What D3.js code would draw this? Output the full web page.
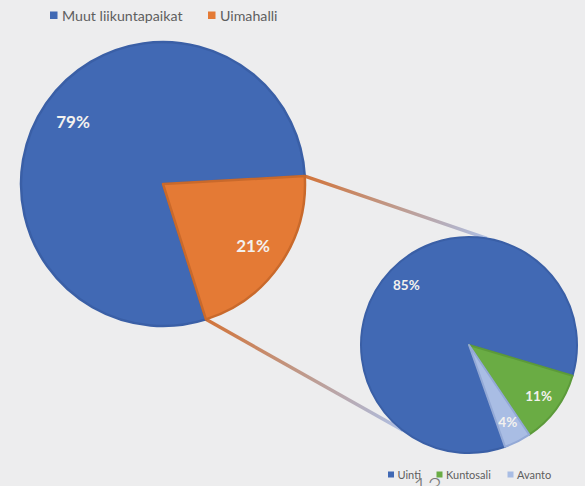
<!DOCTYPE html>
<html><head><meta charset="utf-8">
<script src="https://cdn.jsdelivr.net/npm/d3@7"></script>
<style>
html,body{margin:0;padding:0;background:#ededee;}
svg{display:block;font-family:Lato,"Open Sans",sans-serif;}
</style></head>
<body><svg id="c" width="585" height="486"></svg>
<script>
// data
const mainCategories = ["Muut liikuntapaikat", "Uimahalli"];
const mainValues = [79, 21];
const mainLabels = ["79%", "21%"];
const subCategories = ["Uinti", "Kuntosali", "Avanto"];
const subValues = [85, 11, 4];
const subLabels = ["85%", "11%", "4%"];

const mainColors = ["#4169b4", "#e47a35"];
const mainStroke = ["#3a5fa6", "#c9692b"];
const subColors = ["#4169b4", "#6aac44", "#a9bde4"];
const subStroke = ["#3a5fa6", "#5c9a3a", "#93a9d6"];

const svg = d3.select("#c");
const deg = Math.PI / 180;

const big = {cx: 163, cy: 184, r: 142, start: 162.4 * deg};
const small = {cx: 469, cy: 345, r: 108, start: 160.5 * deg};

const pieBig = d3.pie().sort(null).startAngle(big.start).endAngle(big.start + 2 * Math.PI);
const pieSmall = d3.pie().sort(null).startAngle(small.start).endAngle(small.start + 2 * Math.PI);
const arcsBig = pieBig(mainValues);
const arcsSmall = pieSmall(subValues);

const pt = (c, a, r) => [c.cx + r * Math.sin(a), c.cy - r * Math.cos(a)];

// connector lines
const orange = arcsBig[1];
const defs = svg.append("defs");
const conns = [
  {p0: pt(big, orange.startAngle, big.r), p1: pt(small, 9.5 * deg, small.r)},
  {p0: pt(big, orange.endAngle, big.r), p1: pt(small, 217.8 * deg, small.r)}
];
conns.forEach((c, i) => {
  const g = defs.append("linearGradient").attr("id", "g" + i)
    .attr("gradientUnits", "userSpaceOnUse")
    .attr("x1", c.p0[0]).attr("y1", c.p0[1]).attr("x2", c.p1[0]).attr("y2", c.p1[1]);
  g.append("stop").attr("offset", "0").attr("stop-color", "#d2743a");
  g.append("stop").attr("offset", "0.5").attr("stop-color", "#bf9a8c");
  g.append("stop").attr("offset", "1").attr("stop-color", "#aebfe4");
  svg.append("line").attr("x1", c.p0[0]).attr("y1", c.p0[1]).attr("x2", c.p1[0]).attr("y2", c.p1[1])
    .attr("stroke", `url(#g${i})`).attr("stroke-width", 3.4);
});

const arcBig = d3.arc().innerRadius(0).outerRadius(big.r);
const gBig = svg.append("g").attr("transform", `translate(${big.cx},${big.cy})`);
gBig.selectAll("path").data(arcsBig).join("path")
  .attr("d", arcBig).attr("fill", (d, i) => mainColors[i])
  .attr("stroke", (d, i) => mainStroke[i]).attr("stroke-width", 2.5).attr("stroke-linejoin", "round");
const lblBig = d3.arc().innerRadius(big.r * 0.77).outerRadius(big.r * 0.77);
gBig.selectAll("text").data(arcsBig).join("text")
  .attr("x", d => lblBig.centroid(d)[0]).attr("y", d => lblBig.centroid(d)[1])
  .attr("text-anchor", "middle").attr("dy", "0.36em")
  .attr("fill", "#f3f1ee").attr("font-weight", "bold").attr("font-size", 17)
  .text((d, i) => mainLabels[i]);

const arcSmall = d3.arc().innerRadius(0).outerRadius(small.r);
const gSmall = svg.append("g").attr("transform", `translate(${small.cx},${small.cy})`);
gSmall.selectAll("path").data(arcsSmall).join("path")
  .attr("d", arcSmall).attr("fill", (d, i) => subColors[i])
  .attr("stroke", (d, i) => subStroke[i]).attr("stroke-width", 2).attr("stroke-linejoin", "round");
const lblSmall = d3.arc().innerRadius(small.r * 0.8).outerRadius(small.r * 0.8);
gSmall.selectAll("text").data(arcsSmall).join("text")
  .attr("x", d => lblSmall.centroid(d)[0]).attr("y", d => lblSmall.centroid(d)[1])
  .attr("text-anchor", "middle").attr("dy", "0.36em")
  .attr("fill", "#f3f1ee").attr("font-weight", "bold").attr("font-size", 13.5)
  .text((d, i) => subLabels[i]);

// top legend
const topLeg = [{x: 50, t: 0}, {x: 208, t: 1}];
const lt = svg.append("g");
topLeg.forEach(l => {
  lt.append("rect").attr("x", l.x).attr("y", 11.5).attr("width", 7.5).attr("height", 7.5).attr("fill", mainColors[l.t]);
  lt.append("text").attr("x", l.x + 12).attr("y", 20.5).attr("font-size", 14.2).attr("fill", "#5e5e5e")
    .text(mainCategories[l.t]);
});

// bottom legend
const botLeg = [{x: 388, t: 0}, {x: 436.5, t: 1}, {x: 507.5, t: 2}];
const lb = svg.append("g");
botLeg.forEach(l => {
  lb.append("rect").attr("x", l.x).attr("y", 471.5).attr("width", 6).attr("height", 6).attr("fill", subColors[l.t]);
  lb.append("text").attr("x", l.x + 9.5).attr("y", 478.5).attr("font-size", 11).attr("fill", "#5e5e5e")
    .text(subCategories[l.t]);
});

// slide page number
svg.append("text").attr("x", 413).attr("y", 496).attr("font-size", 25).attr("font-weight", 300)
  .attr("fill", "#7a7a7a").text("13");
</script></body></html>
